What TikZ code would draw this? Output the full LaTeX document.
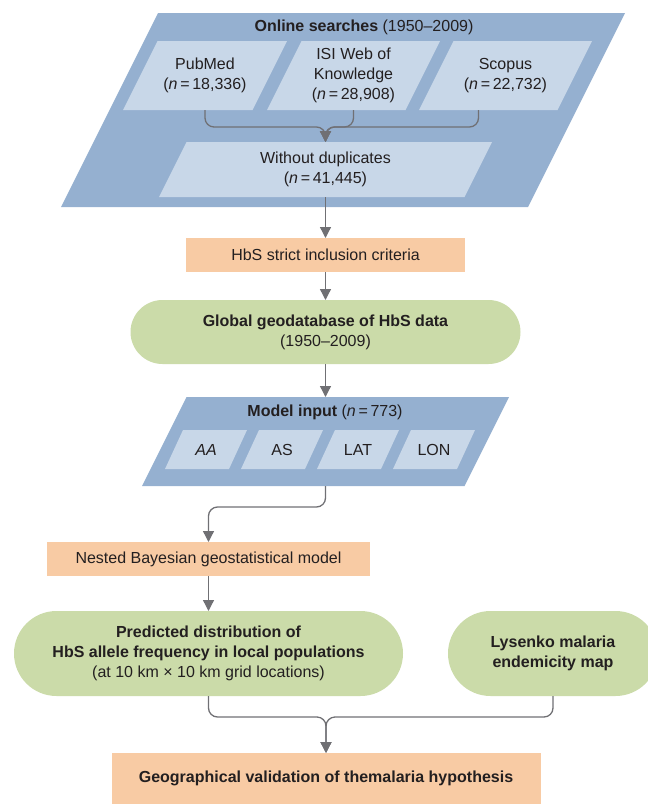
\documentclass[tikz,border=0pt]{standalone}
\usepackage{fontspec}
\setmainfont{Liberation Sans}
\usepackage{xcolor}
\usepackage{tikz}
\usetikzlibrary{positioning,arrows.meta,calc}
\definecolor{outerblue}{RGB}{149,176,208}
\definecolor{innerblue}{RGB}{200,215,232}
\definecolor{peach}{RGB}{248,203,164}
\definecolor{sage}{RGB}{203,219,169}
\definecolor{linegrey}{RGB}{112,112,116}
\definecolor{ink}{RGB}{35,31,32}
\tikzset{
    slab/.style 2 args={rectangle,inner sep=0pt,outer sep=0pt,align=center,text=ink,
        path picture={\fill[#1] (path picture bounding box.south west) -- ([xshift=#2]path picture bounding box.north west) -- (path picture bounding box.north east) -- ([xshift=-#2]path picture bounding box.south east) -- cycle;}},
    outerslab/.style={slab={outerblue}{#1}},
    innerslab/.style={slab={innerblue}{#1}},
    stepbox/.style={rectangle,fill=peach,inner sep=0pt,outer sep=0pt,text=ink},
    pill/.style={rectangle,fill=sage,rounded corners=#1,inner sep=0pt,outer sep=0pt,align=center,text=ink},
    link/.style={line width=1.3pt,draw=linegrey,rounded corners=9pt},
    arr/.style={link,-{Triangle[length=11pt,width=11pt]}},
}
\begin{document}
\begin{tikzpicture}[x=1pt,y=-1pt, every node/.style={font=\fontsize{16}{20}\selectfont}]
\useasboundingbox (0,0) rectangle (648,804);
% online searches block
\node[outerslab=97pt,minimum width=564pt,minimum height=194pt] (search) at (343,110) {};
\node[text=ink] (searcht) at (364,27) {\textbf{Online searches} (1950--2009)};
\node[innerslab=34.5pt,minimum width=164pt,minimum height=69pt] (pub) at (205,75.5) {PubMed\\(\textit{n}\,=\,18,336)};
\node[innerslab=34.5pt,minimum width=173pt,minimum height=69pt] (isi) at (353.5,75.5) {ISI Web of\\Knowledge\\(\textit{n}\,=\,28,908)};
\node[innerslab=34.5pt,minimum width=173pt,minimum height=69pt] (sco) at (505.5,75.5) {Scopus\\(\textit{n}\,=\,22,732)};
\node[innerslab=27.5pt,minimum width=333pt,minimum height=55pt] (wd) at (325.5,169.5) {Without duplicates\\(\textit{n}\,=\,41,445)};
\coordinate (join) at (325.5,127);

% main chain
\node[stepbox,minimum width=279pt,minimum height=34pt,below=41pt of wd] (hbs) {HbS strict inclusion criteria};
\node[pill=32pt,minimum width=390pt,minimum height=64pt,below=28pt of hbs] (glob) {\textbf{Global geodatabase of HbS data}\\(1950--2009)};
\node[outerslab=44.5pt,minimum width=367pt,minimum height=89pt,below=33pt of glob] (model) {};
\node[text=ink] (modelt) at (325,412) {\textbf{Model input} (\textit{n}\,=\,773)};
\node[innerslab=18pt,minimum width=82pt,minimum height=39pt] (aa) at (206,449.5) {\textit{AA}};
\node[innerslab=18pt,minimum width=82pt,minimum height=39pt] (as) at (282,449.5) {AS};
\node[innerslab=18pt,minimum width=82pt,minimum height=39pt] (lat) at (358,449.5) {LAT};
\node[innerslab=18pt,minimum width=82pt,minimum height=39pt] (lon) at (434,449.5) {LON};

\node[stepbox,minimum width=323pt,minimum height=34pt] (nested) at (208.5,559) {Nested Bayesian geostatistical model};
\node[pill=42.5pt,minimum width=389pt,minimum height=85pt,below=35pt of nested] (pred) {\textbf{Predicted distribution of}\\\textbf{HbS allele frequency in local populations}\\(at 10 km × 10 km grid locations)};
\node[pill=42.5pt,minimum width=210pt,minimum height=85pt] (lys) at (553,653.5) {\textbf{Lysenko malaria}\\\textbf{endemicity map}};
\node[stepbox,minimum width=429pt,minimum height=51pt] (geo) at (326,778.5) {\textbf{Geographical validation of themalaria hypothesis}};

\draw[arr] (pub.south) |- (join) -- (wd.north);
\draw[arr] (isi.south) |- (join) -- (wd.north);
\draw[arr] ([xshift=-27pt]sco.south) |- (join) -- (wd.north);
\draw[arr] (wd.south) -- (hbs.north);
\draw[arr] (hbs.south) -- (glob.north);
\draw[arr] (glob.south) -- (model.north);
\draw[arr] (model.south) -- ++(0,21) -| (nested.north);
\draw[arr] (nested.south) -- (pred.north);
\draw[arr] (pred.south) -- ++(0,21) -| (geo.north);
\draw[arr] (lys.south) -- ++(0,21) -| (geo.north);
\end{tikzpicture}
\end{document}
